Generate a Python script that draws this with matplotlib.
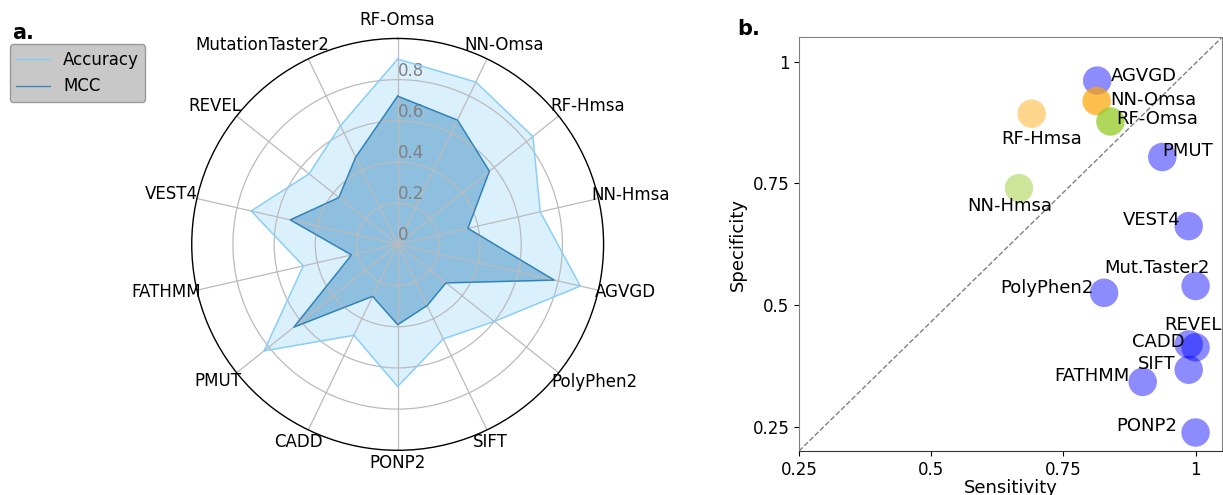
import numpy as np
import matplotlib
matplotlib.use('Agg')
import matplotlib.pyplot as plt

# radar data (clockwise from top)
tools = ['RF-Omsa', 'NN-Omsa', 'RF-Hmsa', 'NN-Hmsa', 'AGVGD', 'PolyPhen2',
         'SIFT', 'PONP2', 'CADD', 'PMUT', 'FATHMM', 'VEST4', 'REVEL',
         'MutationTaster2']
accuracy = [0.90, 0.875, 0.84, 0.71, 0.91, 0.60, 0.51, 0.69, 0.49, 0.83,
            0.47, 0.73, 0.55, 0.64]
mcc = [0.72, 0.67, 0.57, 0.35, 0.78, 0.30, 0.33, 0.39, 0.28, 0.645,
       0.23, 0.535, 0.365, 0.47]

# where each radar label sits (angle in degrees, radius)
label_spots = [(0, 1.089), (28.1, 1.097), (53.9, 1.14), (78.1, 1.158),
               (101.7, 1.131), (124.9, 1.166), (154.75, 1.06), (180, 1.063),
               (206.7, 1.073), (232.75, 1.094), (258.3, 1.146), (282.5, 1.125),
               (307.1, 1.112), (325.8, 1.169)]

# scatter data
names = ['AGVGD', 'NN-Omsa', 'RF-Omsa', 'RF-Hmsa', 'PMUT', 'NN-Hmsa', 'VEST4',
         'Mut.Taster2', 'PolyPhen2', 'REVEL', 'CADD', 'SIFT', 'FATHMM', 'PONP2']
sensitivity = [0.814, 0.813, 0.839, 0.690, 0.937, 0.666, 0.987,
               1.0, 0.827, 1.0, 0.987, 0.987, 0.900, 1.0]
specificity = [0.961, 0.919, 0.877, 0.893, 0.804, 0.740, 0.662,
               0.539, 0.525, 0.413, 0.419, 0.367, 0.342, 0.238]

point_colors = ['blue', 'orange', 'yellowgreen', 'orange', 'blue', 'yellowgreen',
                'blue', 'blue', 'blue', 'blue', 'blue', 'blue', 'blue', 'blue']
point_alpha = [0.45, 0.7, 0.8, 0.45, 0.45, 0.5, 0.45, 0.45, 0.45, 0.45,
               0.45, 0.45, 0.45, 0.45]
# label offsets in pixels and alignment
label_pos = [(14, 5, 'left'), (14, 1, 'left'), (6, 2, 'left'), (10, -25, 'center'),
             (0, 6, 'left'), (-9, -18, 'center'), (-8, 6, 'right'),
             (-39, 18, 'center'), (-11, 5, 'right'), (-3, 22, 'center'),
             (-4, 2, 'right'), (-13, 6, 'right'), (-13, 6, 'right'),
             (-18, 6, 'right')]

fig = plt.figure(figsize=(12.23, 4.95), dpi=100)

# ---- a. radar chart ----
ax = fig.add_axes([0.1567, 0.0903, 0.3369, 0.832], polar=True)
angles = np.linspace(0, 2 * np.pi, len(tools), endpoint=False)
ang = np.concatenate([angles, angles[:1]])
acc = accuracy + accuracy[:1]
mc = mcc + mcc[:1]
ax.set_theta_offset(np.pi / 2)
ax.set_theta_direction(-1)
ax.plot(ang, acc, color='lightskyblue', linewidth=1, label='Accuracy')
ax.fill(ang, acc, color='lightskyblue', alpha=0.3)
ax.plot(ang, mc, color='tab:blue', alpha=0.8, linewidth=1, label='MCC')
ax.fill(ang, mc, color='tab:blue', alpha=0.4)
ax.set_xticks(angles)
ax.set_xticklabels([])
for name, (deg, r) in zip(tools, label_spots):
    ax.text(np.deg2rad(deg), r, name, ha='center', va='center', fontsize=12,
            clip_on=False)
ax.set_ylim(0, 1)
ax.set_yticks([0, 0.2, 0.4, 0.6, 0.8])
ax.set_yticklabels(['0', '0.2', '0.4', '0.6', '0.8'], color='grey', fontsize=12)
ax.set_rlabel_position(0)
for t in ax.get_yticklabels():
    t.set_ha('left')
ax.grid(True, color='#bbbbbb', linewidth=0.9)
ax.spines['polar'].set_color('black')
ax.spines['polar'].set_linewidth(1)
fig.legend(loc='upper left', bbox_to_anchor=(0.001, 0.927), fontsize=12,
           facecolor='#c8c8c8', edgecolor='#999999', framealpha=1)
fig.text(0.01, 0.922, 'a.', fontsize=15, fontweight='bold')

# ---- b. sensitivity vs specificity ----
bx = fig.add_axes([0.6533, 0.0889, 0.3459, 0.8358])
bx.plot([0, 1], [0, 1], transform=bx.transAxes, linestyle='--',
        color='grey', linewidth=1)
for i, n in enumerate(names):
    bx.scatter(sensitivity[i], specificity[i], s=420, color=point_colors[i],
               alpha=point_alpha[i], edgecolors='none')
    dx, dy, ha = label_pos[i]
    bx.annotate(n, (sensitivity[i], specificity[i]), xytext=(dx, dy),
                textcoords='offset pixels', ha=ha, va='center', fontsize=13)
bx.set_xlim(0.25, 1.05)
bx.set_ylim(0.2, 1.05)
bx.set_xticks([0.25, 0.5, 0.75, 1])
bx.set_xticklabels(['0.25', '0.5', '0.75', '1'])
bx.set_yticks([0.25, 0.5, 0.75, 1])
bx.set_yticklabels(['0.25', '0.5', '0.75', '1'])
bx.tick_params(labelsize=12)
for s in ['left', 'top', 'right']:
    bx.spines[s].set_color('grey')
bx.spines['bottom'].set_color('#333333')
bx.set_xlabel('Sensitivity', fontsize=13, labelpad=0)
bx.set_ylabel('Specificity', fontsize=13)
fig.text(0.603, 0.93, 'b.', fontsize=15, fontweight='bold')

plt.savefig('out.png', dpi=100)
